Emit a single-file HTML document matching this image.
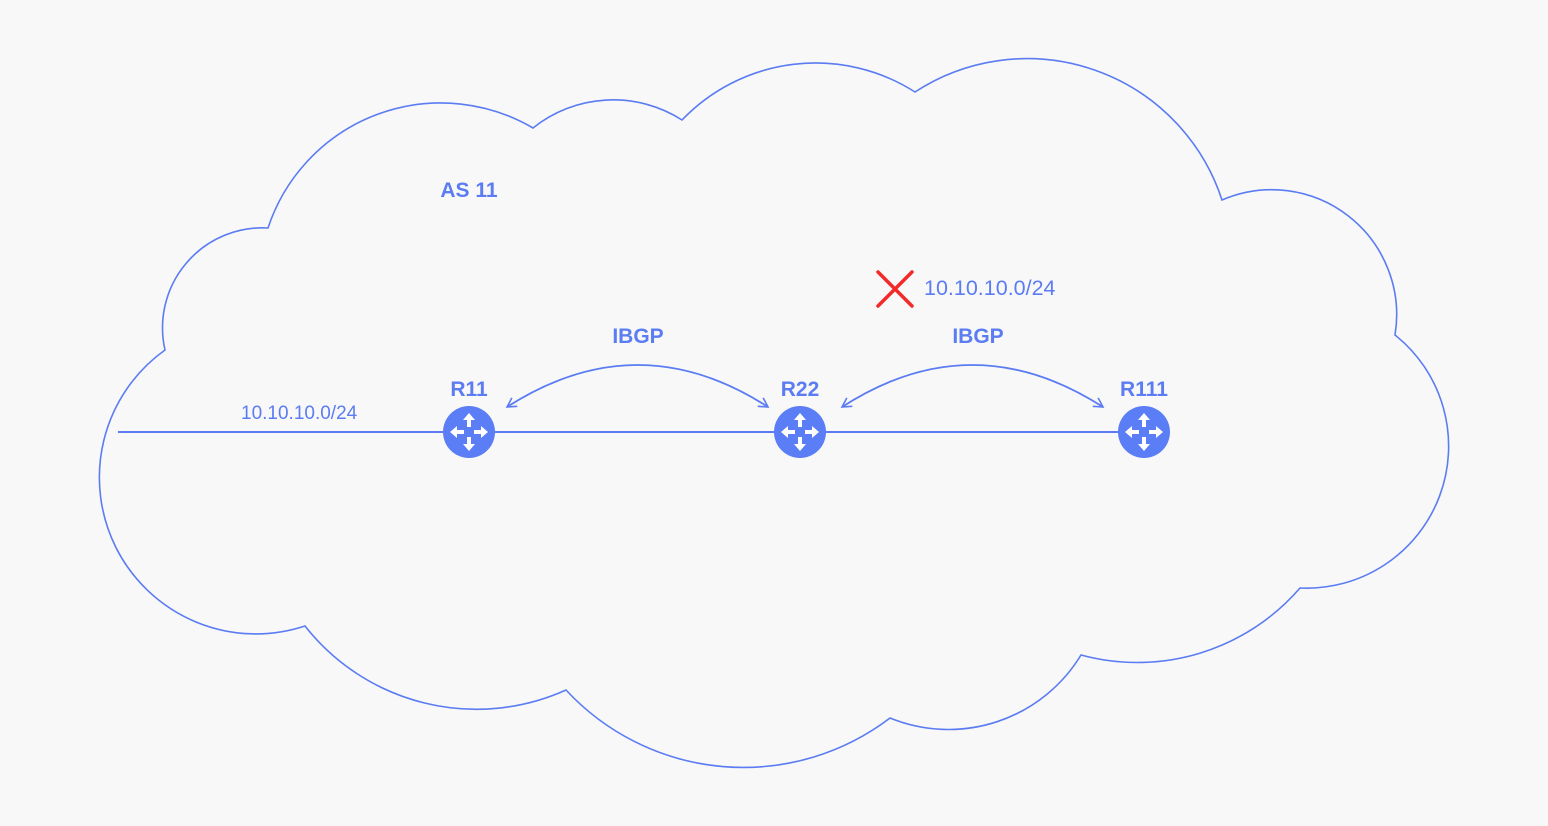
<!DOCTYPE html>
<html><head><meta charset="utf-8"><style>
html,body{margin:0;padding:0;background:#f8f8f8;}
svg{display:block;}
text{font-family:"Liberation Sans",sans-serif;}
</style></head><body>
<svg width="1548" height="826" viewBox="0 0 1548 826" xmlns="http://www.w3.org/2000/svg">
<rect width="1548" height="826" fill="#f8f8f8"/>
<defs>
<marker id="ah" viewBox="0 0 12 12" refX="10" refY="6" markerWidth="12" markerHeight="12" markerUnits="userSpaceOnUse" orient="auto-start-reverse">
<path d="M1,1 L10,6 L1,11" fill="none" stroke="#5b7cf2" stroke-width="1.6"/>
</marker>
<g id="rt">
<circle r="26" fill="#5b7ef6"/>
<g fill="#fff">
<path d="M0,-19 L-6,-12 L-2,-12 L-2,-5 L2,-5 L2,-12 L6,-12 Z"/>
<path d="M0,19 L-6,12 L-2,12 L-2,5 L2,5 L2,12 L6,12 Z"/>
<path d="M-19,0 L-12,-6 L-12,-2 L-5,-2 L-5,2 L-12,2 L-12,6 Z"/>
<path d="M19,0 L12,-6 L12,-2 L5,-2 L5,2 L12,2 L12,6 Z"/>
</g>
</g>
</defs>
<path d="M165,350 A100,100 0 0 1 268,228 A182,182 0 0 1 533,128 A128,128 0 0 1 682,120 A185,185 0 0 1 915,92 A205,205 0 0 1 1222,200 A125,125 0 0 1 1395,335 A142,142 0 0 1 1300,588 A215,215 0 0 1 1081,655 A155,155 0 0 1 890,718 A242,242 0 0 1 566,690 A218,218 0 0 1 305,626 A156.5,156.5 0 0 1 165,350 Z" fill="#f8f8f8" stroke="#5b7cf2" stroke-width="1.6"/>
<line x1="118" y1="432" x2="1145" y2="432" stroke="#5b7cf2" stroke-width="2"/>
<path d="M507,407 Q638,323 768,407" fill="none" stroke="#5b7cf2" stroke-width="1.8" marker-start="url(#ah)" marker-end="url(#ah)"/>
<path d="M842,407 Q972,323 1103,407" fill="none" stroke="#5b7cf2" stroke-width="1.8" marker-start="url(#ah)" marker-end="url(#ah)"/>
<use href="#rt" x="469" y="432"/>
<use href="#rt" x="800" y="432"/>
<use href="#rt" x="1144" y="432"/>
<g fill="#5b7cf2" font-weight="bold" font-size="21" text-anchor="middle">
<text x="469" y="197">AS 11</text>
<text x="638" y="343">IBGP</text>
<text x="978" y="343">IBGP</text>
<text x="469" y="396">R11</text>
<text x="800" y="396">R22</text>
<text x="1144" y="396">R111</text>
</g>
<g fill="#5b7cf2" font-size="19">
<text x="241" y="419">10.10.10.0/24</text>
<text x="924" y="295" font-size="21.5">10.10.10.0/24</text>
</g>
<path d="M878,272 L912,306 M912,272 L878,306" stroke="#f22a2a" stroke-width="3.5" stroke-linecap="round"/>
</svg>
</body></html>
